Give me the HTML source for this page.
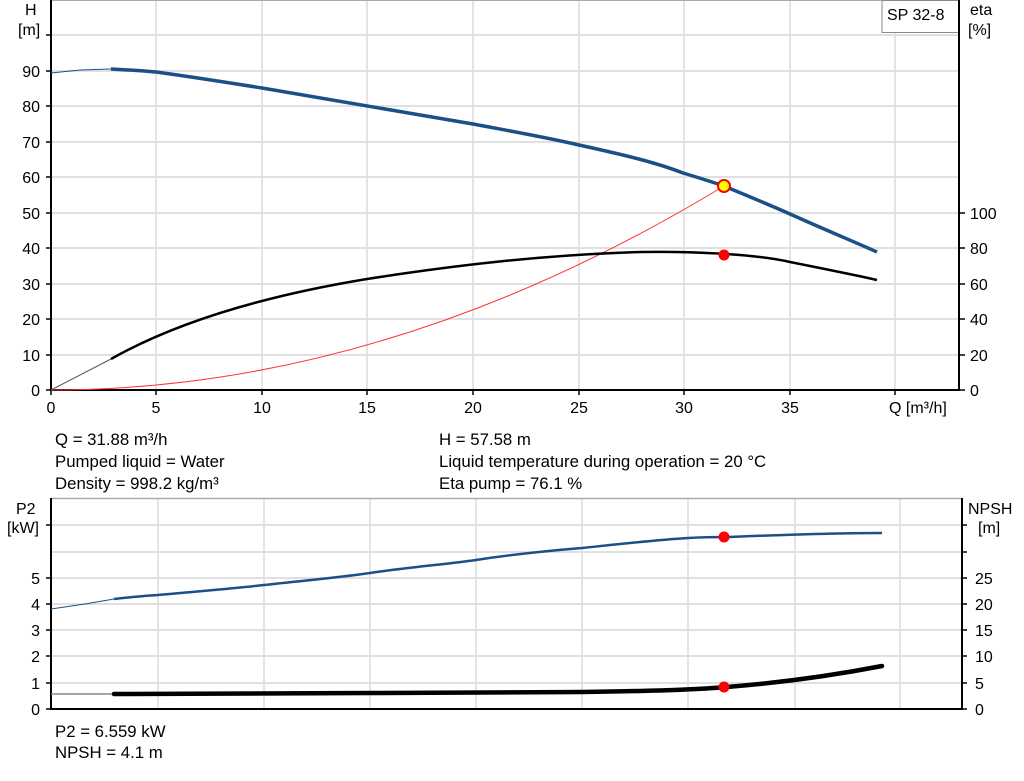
<!DOCTYPE html>
<html><head><meta charset="utf-8"><style>
body{margin:0;background:#fff;width:1024px;height:781px;overflow:hidden}
svg{display:block}
text{font-family:"Liberation Sans",Arial,sans-serif;font-size:16px;fill:#000}
text.i{font-size:16.8px}
</style></head><body>
<svg width="1024" height="781" viewBox="0 0 1024 781">
<g stroke="#dcdcdc" stroke-width="1.5">
<line x1="156" y1="0" x2="156" y2="390"/><line x1="262" y1="0" x2="262" y2="390"/><line x1="367" y1="0" x2="367" y2="390"/><line x1="473" y1="0" x2="473" y2="390"/><line x1="579" y1="0" x2="579" y2="390"/><line x1="684" y1="0" x2="684" y2="390"/><line x1="790" y1="0" x2="790" y2="390"/><line x1="895" y1="0" x2="895" y2="390"/>
</g>
<g stroke="#e0e0e0" stroke-width="2">
<line x1="51" y1="35" x2="959" y2="35"/><line x1="51" y1="71" x2="959" y2="71"/><line x1="51" y1="106" x2="959" y2="106"/><line x1="51" y1="142" x2="959" y2="142"/><line x1="51" y1="177" x2="959" y2="177"/><line x1="51" y1="213" x2="959" y2="213"/><line x1="51" y1="248" x2="959" y2="248"/><line x1="51" y1="284" x2="959" y2="284"/><line x1="51" y1="319" x2="959" y2="319"/><line x1="51" y1="355" x2="959" y2="355"/>
</g>
<line x1="51" y1="0.5" x2="959" y2="0.5" stroke="#aaa" stroke-width="1"/>
<rect x="882" y="0.5" width="77" height="32" fill="#fff" stroke="#888"/>
<text x="887" y="20">SP 32-8</text>
<g stroke="#000" stroke-width="2" fill="none">
<line x1="51" y1="0" x2="51" y2="391"/><line x1="50" y1="390" x2="960" y2="390"/><line x1="959" y1="0" x2="959" y2="391"/>
</g>
<g stroke="#000" stroke-width="1.5">
<line x1="46" y1="390" x2="51" y2="390"/><line x1="46" y1="355" x2="51" y2="355"/><line x1="46" y1="319" x2="51" y2="319"/><line x1="46" y1="284" x2="51" y2="284"/><line x1="46" y1="248" x2="51" y2="248"/><line x1="46" y1="213" x2="51" y2="213"/><line x1="46" y1="177" x2="51" y2="177"/><line x1="46" y1="142" x2="51" y2="142"/><line x1="46" y1="106" x2="51" y2="106"/><line x1="46" y1="71" x2="51" y2="71"/><line x1="46" y1="35" x2="51" y2="35"/>
<line x1="959" y1="390" x2="965" y2="390"/><line x1="959" y1="355" x2="965" y2="355"/><line x1="959" y1="319" x2="965" y2="319"/><line x1="959" y1="284" x2="965" y2="284"/><line x1="959" y1="248" x2="965" y2="248"/><line x1="959" y1="213" x2="965" y2="213"/>
<line x1="51" y1="390" x2="51" y2="395"/><line x1="156" y1="390" x2="156" y2="395"/><line x1="262" y1="390" x2="262" y2="395"/><line x1="367" y1="390" x2="367" y2="395"/><line x1="473" y1="390" x2="473" y2="395"/><line x1="579" y1="390" x2="579" y2="395"/><line x1="684" y1="390" x2="684" y2="395"/><line x1="790" y1="390" x2="790" y2="395"/><line x1="895" y1="390" x2="895" y2="395"/>
</g>
<g text-anchor="end">
<text x="40" y="396">0</text><text x="40" y="361">10</text><text x="40" y="325">20</text><text x="40" y="290">30</text><text x="40" y="254">40</text><text x="40" y="219">50</text><text x="40" y="183">60</text><text x="40" y="148">70</text><text x="40" y="112">80</text><text x="40" y="77">90</text>
</g>
<text x="25" y="15">H</text><text x="18" y="35">[m]</text>
<text x="970" y="15">eta</text><text x="968" y="35">[%]</text>
<g>
<text x="970" y="396">0</text><text x="970" y="361">20</text><text x="970" y="325">40</text><text x="970" y="290">60</text><text x="970" y="254">80</text><text x="970" y="219">100</text>
</g>
<g text-anchor="middle">
<text x="51" y="413">0</text><text x="156" y="413">5</text><text x="262" y="413">10</text><text x="367" y="413">15</text><text x="473" y="413">20</text><text x="579" y="413">25</text><text x="684" y="413">30</text><text x="790" y="413">35</text>
</g>
<text x="889" y="413">Q [m³/h]</text>
<path d="M51,390 Q387.5,390 724,186" stroke="#ff3030" stroke-width="1" fill="none"/>
<polyline points="51,73 80,70 111,69" stroke="#1b4f87" stroke-width="1" fill="none"/>
<path d="M111,69 C130,70 145,71 156,72 C200,78 230,83 262,88 C330,99 400,111 473,124 C510,131 545,137 579,145 C620,154 655,162 683,173 C700,178 712,182 724,186 C750,197 770,205 790,214 C830,232 855,242 877,252" stroke="#1b4f87" stroke-width="3.5" fill="none" stroke-linejoin="round"/>
<polyline points="51,390 111,359" stroke="#555" stroke-width="1" fill="none"/>
<path d="M111,359 C180,320 270,295 367,279 C450,266 540,255 640,252 C700,251 760,255 790,262 C830,270 860,276 877,280" stroke="#000" stroke-width="2.5" fill="none"/>
<circle cx="724" cy="186" r="6" fill="#ffff00" stroke="#ff0000" stroke-width="2"/>
<circle cx="724" cy="255" r="5.5" fill="#ff0000"/>
<text class="i" x="55" y="445">Q = 31.88 m³/h</text><text class="i" x="55" y="467">Pumped liquid = Water</text><text class="i" x="55" y="489">Density = 998.2 kg/m³</text>
<text class="i" x="439" y="445">H = 57.58 m</text><text class="i" x="439" y="467">Liquid temperature during operation = 20 °C</text><text class="i" x="439" y="489">Eta pump = 76.1 %</text>
<g stroke="#dcdcdc" stroke-width="1.5">
<line x1="158" y1="498" x2="158" y2="709"/><line x1="264" y1="498" x2="264" y2="709"/><line x1="370" y1="498" x2="370" y2="709"/><line x1="476" y1="498" x2="476" y2="709"/><line x1="582" y1="498" x2="582" y2="709"/><line x1="688" y1="498" x2="688" y2="709"/><line x1="795" y1="498" x2="795" y2="709"/><line x1="900" y1="498" x2="900" y2="709"/>
</g>
<g stroke="#e0e0e0" stroke-width="2">
<line x1="51" y1="683" x2="962" y2="683"/><line x1="51" y1="656" x2="962" y2="656"/><line x1="51" y1="630" x2="962" y2="630"/><line x1="51" y1="604" x2="962" y2="604"/><line x1="51" y1="578" x2="962" y2="578"/><line x1="51" y1="552" x2="962" y2="552"/><line x1="51" y1="525" x2="962" y2="525"/>
</g>
<line x1="51" y1="498.5" x2="962" y2="498.5" stroke="#aaa" stroke-width="1.5"/>
<g stroke="#000" stroke-width="2">
<line x1="51" y1="498" x2="51" y2="710"/><line x1="50" y1="709" x2="963" y2="709"/><line x1="962" y1="498" x2="962" y2="710"/>
</g>
<g stroke="#000" stroke-width="1.5">
<line x1="46" y1="709" x2="51" y2="709"/><line x1="46" y1="683" x2="51" y2="683"/><line x1="46" y1="656" x2="51" y2="656"/><line x1="46" y1="630" x2="51" y2="630"/><line x1="46" y1="604" x2="51" y2="604"/><line x1="46" y1="578" x2="51" y2="578"/><line x1="46" y1="525" x2="51" y2="525"/>
<line x1="962" y1="709" x2="967" y2="709"/><line x1="962" y1="683" x2="967" y2="683"/><line x1="962" y1="656" x2="967" y2="656"/><line x1="962" y1="630" x2="967" y2="630"/><line x1="962" y1="604" x2="967" y2="604"/><line x1="962" y1="578" x2="967" y2="578"/><line x1="962" y1="552" x2="967" y2="552"/><line x1="962" y1="525" x2="967" y2="525"/>
</g>
<g text-anchor="end">
<text x="40" y="715">0</text><text x="40" y="689">1</text><text x="40" y="662">2</text><text x="40" y="636">3</text><text x="40" y="610">4</text><text x="40" y="584">5</text>
</g>
<text x="16" y="514">P2</text><text x="7" y="533">[kW]</text>
<text x="968" y="514">NPSH</text><text x="978" y="533">[m]</text>
<g>
<text x="975" y="715">0</text><text x="975" y="689">5</text><text x="975" y="662">10</text><text x="975" y="636">15</text><text x="975" y="610">20</text><text x="975" y="584">25</text>
</g>
<polyline points="51,609 85,604 114,599" stroke="#1b4f87" stroke-width="1" fill="none"/>
<path d="M114,599 C130,597 145,596 158,595 C200,591 230,589 264,585 C300,581 335,578 370,573 C410,567 440,565 476,560 C515,554 545,551 582,548 C620,544 655,540 688,538 C705,537 715,537 727,537 C780,535 830,533 882,533" stroke="#1b4f87" stroke-width="2.5" fill="none"/>
<line x1="51" y1="694" x2="114" y2="694" stroke="#888" stroke-width="1.5"/>
<path d="M114,694 L370,693 L582,692 C650,691 690,690 727,687 S 820,678 882,666" stroke="#000" stroke-width="4.5" fill="none" stroke-linecap="round"/>
<circle cx="724" cy="537" r="5.5" fill="#ff0000"/>
<circle cx="724" cy="687" r="5.5" fill="#ff0000"/>
<text class="i" x="55" y="737">P2 = 6.559 kW</text><text class="i" x="55" y="758">NPSH = 4.1 m</text>
</svg>
</body></html>
